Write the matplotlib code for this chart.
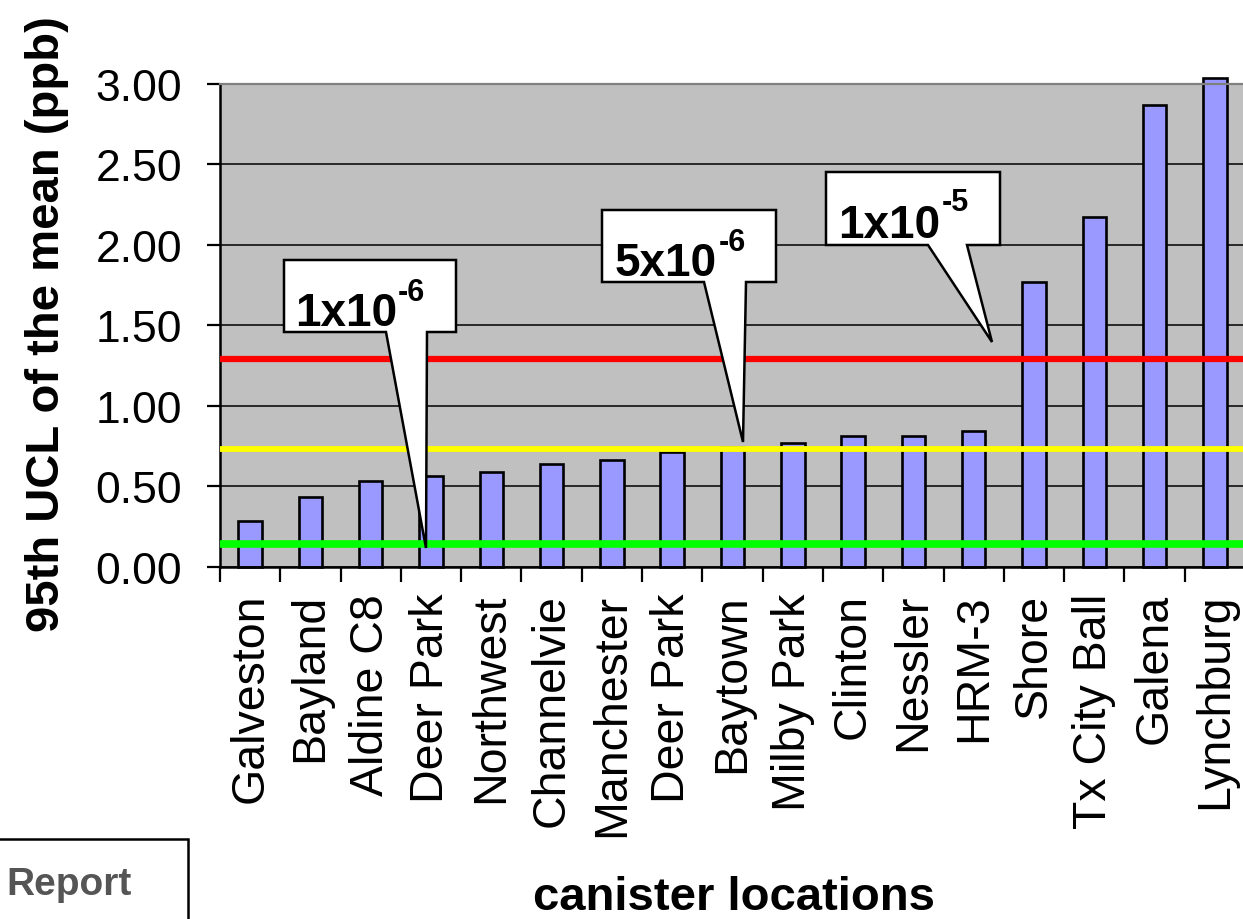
import numpy as np
import matplotlib
matplotlib.use("Agg")
import matplotlib.pyplot as plt
from matplotlib.patches import Polygon, Rectangle

plt.rcParams['font.family'] = ['Liberation Sans', 'DejaVu Sans']

# ---- data ----
categories = ["Galveston", "Bayland", "Aldine C8", "Deer Park", "Northwest",
              "Channelvie", "Manchester", "Deer Park", "Baytown", "Milby Park",
              "Clinton", "Nessler", "HRM-3", "Shore", "Tx City Ball", "Galena",
              "Lynchburg"]
values = [0.28, 0.43, 0.53, 0.56, 0.59, 0.64, 0.66, 0.71, 0.74, 0.77,
          0.81, 0.81, 0.84, 1.77, 2.17, 2.87, 3.04]
risk_labels = ["1x10", "5x10", "1x10"]
risk_exponents = ["-6", "-6", "-5"]
risk_levels = [0.14, 0.73, 1.29]
risk_colors = ["#00FF00", "#FFFF00", "#FF0000"]
risk_widths = [5.5, 4.2, 4.5]
yticks = [0.0, 0.5, 1.0, 1.5, 2.0, 2.5, 3.0]
ytick_labels = ["0.00", "0.50", "1.00", "1.50", "2.00", "2.50", "3.00"]

W, H = 1243, 920
fig = plt.figure(figsize=(W / 100, H / 100), dpi=100)


def fx(px):
    return px / W


def fy(py):
    return (H - py) / H


ax_left, ax_right, ax_top, ax_bot = 220, 1245, 85, 567.5
ax = fig.add_axes([fx(ax_left), fy(ax_bot), (ax_right - ax_left) / W, (ax_bot - ax_top) / H])
ax.set_facecolor("#C0C0C0")

n = len(categories)
x = np.arange(n)
ax.bar(x, values, width=0.39, color="#9999FF", edgecolor="black", linewidth=1.9,
       zorder=2, clip_on=False)

for lvl, col, lw in zip(risk_levels, risk_colors, risk_widths):
    ax.axhline(lvl, color=col, linewidth=lw, zorder=3)

ax.set_xlim(-0.5, n - 0.5)
ax.set_ylim(0, 3.0)
ax.set_yticks(yticks)
ax.set_yticklabels(ytick_labels, fontsize=32)
ax.yaxis.grid(True, color="black", linewidth=1.1)
ax.set_axisbelow(True)

ax.set_xticks(x)
ax.set_xticklabels(categories, rotation=90, fontsize=33.5, va="top", ha="center")
ax.set_xticks(np.arange(-0.5, n, 1), minor=True)
ax.tick_params(axis="x", which="major", length=0, pad=19)
ax.tick_params(axis="x", which="minor", length=11, width=1.6, color="black")
ax.tick_params(axis="y", which="major", length=9.4, width=1.6, pad=18, color="black")

for s in ["left", "bottom"]:
    ax.spines[s].set_color("black")
    ax.spines[s].set_linewidth(1.8)
ax.spines["top"].set_color("#808080")
ax.spines["top"].set_linewidth(1.6)
ax.spines["right"].set_visible(False)

# axis titles
fig.text(fx(47), fy(324), "95th UCL of the mean (ppb)", rotation=90, fontsize=34,
         fontweight="bold", ha="center", va="center")
fig.text(fx(734), fy(898), "canister locations", fontsize=34, fontweight="bold",
         ha="center", va="center")

# callouts (pixel geometry, y down)
callouts = [
    dict(x0=284, x1=456, top=261, bot=333, wl=386, wr=427, tip=(426, 549),
         tx=295, tb=326, sx=398, sb=301),
    dict(x0=602, x1=776, top=211, bot=283, wl=704, wr=746, tip=(743, 443),
         tx=615, tb=276, sx=719, sb=251),
    dict(x0=826, x1=1000, top=173, bot=246, wl=928, wr=967, tip=(992, 343),
         tx=838, tb=238, sx=942, sb=211),
]
for c, lab, ex in zip(callouts, risk_labels, risk_exponents):
    pts = [(c["x0"], c["top"]), (c["x1"], c["top"]), (c["x1"], c["bot"]),
           (c["wr"], c["bot"]), c["tip"], (c["wl"], c["bot"]), (c["x0"], c["bot"])]
    poly = Polygon([(fx(px), fy(py)) for px, py in pts], closed=True,
                   facecolor="white", edgecolor="black", linewidth=1.8,
                   transform=fig.transFigure, zorder=5, joinstyle="miter")
    fig.add_artist(poly)
    fig.text(fx(c["tx"]), fy(c["tb"]), lab, fontsize=33, fontweight="bold",
             ha="left", va="baseline", zorder=6)
    fig.text(fx(c["sx"]), fy(c["sb"]), ex, fontsize=22, fontweight="bold",
             ha="left", va="baseline", zorder=6)

# "Report" box in the lower-left corner
rect = Rectangle((fx(-5), fy(925)), fx(193), (925 - 840) / H, transform=fig.transFigure,
                 facecolor="white", edgecolor="black", linewidth=1.8, zorder=5)
fig.add_artist(rect)
fig.text(fx(132), fy(895), "Report", fontsize=28, fontweight="bold", color="#555555",
         ha="right", va="baseline", zorder=6)

fig.savefig("out.png", dpi=100)
